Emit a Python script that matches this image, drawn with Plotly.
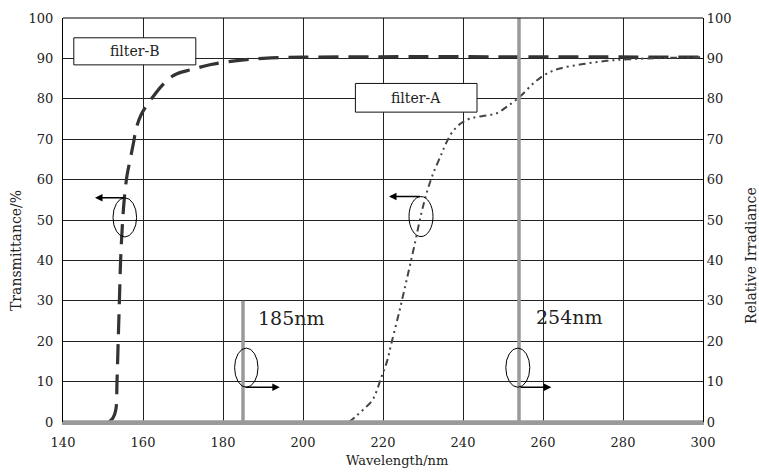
import plotly.graph_objects as go

# ---- data ----
filterB_x = [151.5, 152.5, 153.2, 153.5, 153.8, 154.1, 154.4, 154.8, 155.3, 156.0, 156.8, 157.6, 158.4,
             159.5, 161.0, 162.5, 164.5, 166.5, 168.5, 172.0, 177.0, 183.0, 190.0, 200.0, 300.0]
filterB_y = [0, 1, 3, 10, 20, 30, 40, 48, 55, 61, 65, 69, 73,
             76, 78.5, 80.5, 83, 85, 86.2, 87.2, 88.5, 89.4, 90.0, 90.3, 90.3]

filterA_x = [211.5, 213, 215, 217.4, 219.6, 221, 222.1, 224, 225.8, 227.7, 229.6, 231, 232.5, 234.6,
             235.8, 237.5, 239.6, 242.1, 245.9, 248.4, 250.9, 254.2, 257.9, 260.9, 264.2, 270,
             275.9, 281.7, 290, 300]
filterA_y = [0, 1.2, 3, 5.5, 11.1, 15, 19.5, 27, 34.7, 43, 51.7, 57, 61.4, 66.3,
             69.1, 72, 74, 75.2, 75.9, 76.4, 78, 80.5, 84.1, 86.2, 87.5, 88.6,
             89.4, 89.8, 90.1, 90.3]

irr_x = [140, 185, 185, 185, 254, 254, 254, 300]
irr_y = [0, 0, 30, 0, 0, 100, 0, 0]

x_ticks = [140, 160, 180, 200, 220, 240, 260, 280, 300]
y_ticks = [0, 10, 20, 30, 40, 50, 60, 70, 80, 90, 100]

FONT = "DejaVu Serif"
TXT = "#222222"

# plot area in pixels
PL, PR, PT, PB = 63, 703, 11, 422
PW, PH = PR - PL, PB - PT


def px(x):
    return (x - PL) / PW


def py(y):
    return (PB - y) / PH


fig = go.Figure()
fig.add_trace(go.Scatter(x=irr_x, y=irr_y, mode="lines", yaxis="y2",
                         line=dict(color="#9a9a9a", width=3.5), showlegend=False))
fig.add_trace(go.Scatter(x=filterB_x, y=filterB_y, mode="lines", line_shape="spline",
                         line=dict(color="#333333", width=3.2, dash="20px,10px"), showlegend=False))
fig.add_trace(go.Scatter(x=filterA_x, y=filterA_y, mode="lines", line_shape="spline",
                         line=dict(color="#444444", width=2, dash="7px,4px,2px,4px,2px,4px"),
                         showlegend=False))

shapes = []
shapes.append(dict(type="line", xref="paper", yref="paper", x0=0, x1=1, y0=1, y1=1,
                   line=dict(color="black", width=1.2)))
for (x0, x1, y0, y1) in [(152.5, 158.4, 45.8, 55.5), (226.5, 232.5, 45.9, 55.8),
                         (182.9, 188.75, 8.6, 18.3), (250.7, 256.7, 8.6, 18.3)]:
    shapes.append(dict(type="circle", xref="x", yref="y", x0=x0, x1=x1, y0=y0, y1=y1,
                       line=dict(color="black", width=1), layer="above"))
for (x0, x1, y0, y1) in [(142.7, 173.2, 88.4, 95.1), (213.1, 243.5, 76.7, 83.8)]:
    shapes.append(dict(type="rect", xref="x", yref="y", x0=x0, x1=x1, y0=y0, y1=y1,
                       line=dict(color="#111111", width=1), fillcolor="white", layer="above"))

ann = []
ann.append(dict(x=157.95, y=91.75, xref="x", yref="y", text="filter-B", showarrow=False,
                font=dict(family=FONT, size=14, color=TXT)))
ann.append(dict(x=228.3, y=80.25, xref="x", yref="y", text="filter-A", showarrow=False,
                font=dict(family=FONT, size=14, color=TXT)))
ann.append(dict(x=188.2, y=25.8, xref="x", yref="y", text="185nm", showarrow=False, xanchor="left",
                font=dict(family=FONT, size=19, color=TXT)))
ann.append(dict(x=257.8, y=26.0, xref="x", yref="y", text="254nm", showarrow=False, xanchor="left",
                font=dict(family=FONT, size=19, color=TXT)))
for (hx, tx, yy) in [(148.0, 155.4, 55.5), (221.5, 229.6, 55.8), (194.2, 185.25, 8.6), (262.1, 254.0, 8.6)]:
    ann.append(dict(x=hx, y=yy, ax=tx, ay=yy, xref="x", yref="y", axref="x", ayref="y",
                    text="", showarrow=True, arrowhead=2, arrowsize=1, arrowwidth=1.5,
                    arrowcolor="black"))
ann.append(dict(x=px(16), y=py(248), xref="paper", yref="paper", xanchor="center", yanchor="middle",
                text="Transmittance/%", showarrow=False, textangle=-90,
                font=dict(family=FONT, size=14, color=TXT)))
ann.append(dict(x=px(751), y=py(253), xref="paper", yref="paper", xanchor="center", yanchor="middle",
                text="Relative Irradiance", showarrow=False, textangle=-90,
                font=dict(family=FONT, size=14, color=TXT)))
ann.append(dict(x=px(397), y=py(461), xref="paper", yref="paper", xanchor="center", yanchor="middle",
                text="Wavelength/nm", showarrow=False,
                font=dict(family=FONT, size=13, color=TXT)))

W, H = 759, 472
fig.update_layout(
    width=W, height=H,
    margin=dict(l=PL, r=W - PR, t=PT, b=H - PB, pad=0),
    paper_bgcolor="white", plot_bgcolor="white",
    font=dict(family=FONT, size=13, color=TXT),
    shapes=shapes, annotations=ann,
    xaxis=dict(range=[140, 300], tickvals=x_ticks, ticktext=[str(v) for v in x_ticks],
               showgrid=True, gridcolor="#222222", gridwidth=1, zeroline=False,
               showline=True, linecolor="#9a9a9a", linewidth=3, ticks="",
               ticklabelstandoff=6, tickfont=dict(family=FONT, size=13, color=TXT)),
    yaxis=dict(range=[0, 100], tickvals=y_ticks, showgrid=True, gridcolor="#222222", gridwidth=1,
               zeroline=False, showline=True, linecolor="black", linewidth=1.2, ticks="",
               ticklabelstandoff=6, ticklabeloverflow="allow",
               tickfont=dict(family=FONT, size=13, color=TXT)),
    yaxis2=dict(range=[0, 100], tickvals=y_ticks, overlaying="y", side="right", showgrid=False,
                zeroline=False, showline=True, linecolor="black", linewidth=1.2, ticks="",
                ticklabelstandoff=0, ticklabeloverflow="allow",
                tickfont=dict(family=FONT, size=13, color=TXT)),
)

fig.write_html("out.html", config={"displayModeBar": False},
               post_script="document.body.style.margin='0px';")
